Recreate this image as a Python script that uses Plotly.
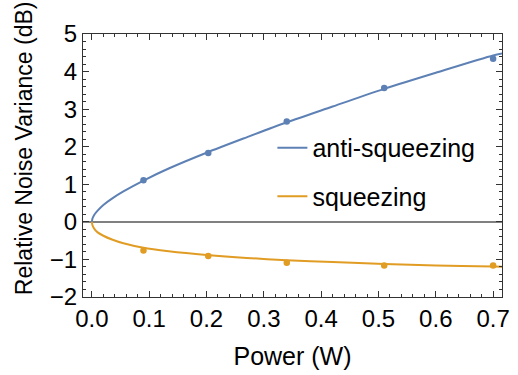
import plotly.graph_objects as go

# measured data points
power_pts = [0.09, 0.203, 0.34, 0.51, 0.70]
anti_pts = [1.11, 1.83, 2.67, 3.56, 4.34]
sq_pts = [-0.76, -0.91, -1.09, -1.16, -1.16]

# theory curves
curve_x = [0.0, 0.001, 0.004, 0.01, 0.02, 0.035, 0.055, 0.09, 0.134, 0.2, 0.27, 0.34, 0.42, 0.51, 0.6, 0.7, 0.716]
anti_curve = [0.0, 0.09, 0.185, 0.30, 0.45, 0.62, 0.81, 1.10, 1.42, 1.84, 2.25, 2.65, 3.07, 3.54, 3.97, 4.43, 4.48]
sq_curve = [0.0, -0.09, -0.18, -0.28, -0.37, -0.47, -0.57, -0.69, -0.78, -0.88, -0.96, -1.02, -1.07, -1.12, -1.16, -1.19, -1.195]

x_ticks = [0.0, 0.1, 0.2, 0.3, 0.4, 0.5, 0.6, 0.7]
x_labels = ["0.0", "0.1", "0.2", "0.3", "0.4", "0.5", "0.6", "0.7"]
y_ticks = [-2, -1, 0, 1, 2, 3, 4, 5]

BLUE = "#5E81B5"
ORANGE = "#E19C24"
FONT = "Liberation Sans, Arial, sans-serif"

fig = go.Figure()
fig.add_trace(go.Scatter(x=curve_x, y=anti_curve, mode="lines", name="anti-squeezing",
                         line=dict(color=BLUE, width=2, shape="spline", smoothing=0.8),
                         legendgroup="a", showlegend=True))
fig.add_trace(go.Scatter(x=curve_x, y=sq_curve, mode="lines", name="squeezing",
                         line=dict(color=ORANGE, width=2, shape="spline", smoothing=0.8),
                         legendgroup="b", showlegend=True))
fig.add_trace(go.Scatter(x=power_pts, y=anti_pts, mode="markers",
                         marker=dict(color=BLUE, size=6.5), showlegend=False))
fig.add_trace(go.Scatter(x=power_pts, y=sq_pts, mode="markers",
                         marker=dict(color=ORANGE, size=6.5), showlegend=False))

axis_common = dict(
    showline=True, linecolor="#333", linewidth=1, mirror="ticks",
    ticks="inside", ticklen=6, tickwidth=1, tickcolor="#333",
    showgrid=False, tickfont=dict(family=FONT, size=24, color="black"),
)

fig.update_xaxes(
    range=[-0.0155, 0.7155], tickvals=x_ticks, ticktext=x_labels,
    zeroline=False,
    minor=dict(ticks="inside", dtick=0.02, tick0=0, ticklen=3, tickcolor="#333"),
    title=dict(text="Power (W)", font=dict(family=FONT, size=25, color="black"), standoff=16),
    **axis_common,
)
fig.update_yaxes(
    range=[-2, 5], tickvals=y_ticks,
    zeroline=True, zerolinecolor="#808080", zerolinewidth=2,
    minor=dict(ticks="inside", dtick=0.2, tick0=0, ticklen=3, tickcolor="#333"),
    **axis_common,
)

fig.add_annotation(
    text="Relative Noise Variance (dB)", textangle=-90,
    xref="paper", yref="paper", x=-0.1405, y=0.5665,
    xanchor="center", yanchor="middle", showarrow=False,
    font=dict(family=FONT, size=23, color="black"),
)

fig.update_layout(
    width=518, height=375,
    margin=dict(l=83, r=8, t=34, b=78),
    plot_bgcolor="white", paper_bgcolor="white",
    legend=dict(x=0.452, y=0.654, xanchor="left", yanchor="top",
                font=dict(family=FONT, size=25, color="black"),
                bgcolor="rgba(0,0,0,0)", tracegroupgap=13, itemwidth=30),
)

fig.write_html("out.html")
